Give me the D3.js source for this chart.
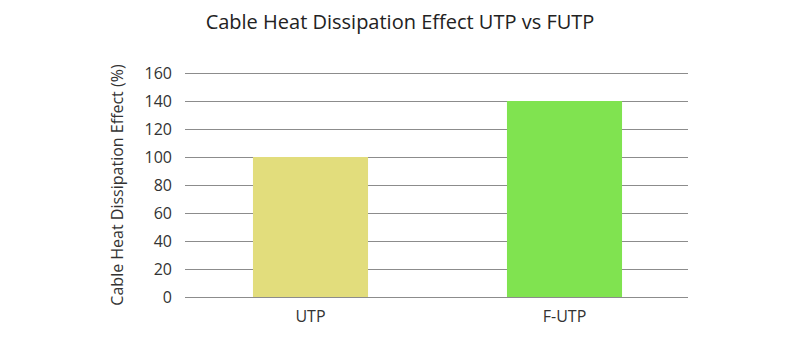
<!DOCTYPE html>
<html><head><meta charset="utf-8">
<script src="https://cdn.jsdelivr.net/npm/d3@7"></script>
<style>body{margin:0;background:#fff;}svg{display:block;font-family:"Open Sans",sans-serif;}</style>
</head><body><svg id="c" width="800" height="348"></svg>
<script>
const categories = ["UTP", "F-UTP"];
const values = [100, 140];
const colors = ["#e2dd7c", "#80e350"];
const yTicks = [0, 20, 40, 60, 80, 100, 120, 140, 160];

(function () {
const svg = d3.select("#c");
const mLeft = 185, mRight = 688, mTop = 73, mBottom = 297;
const x = d3.scaleBand().domain(categories).range([183.5, 691.5]).paddingInner(0).paddingOuter(0);
const y = d3.scaleLinear().domain([0, 160]).range([mBottom, mTop]);
const barW = x.bandwidth() * 0.453;

svg.append("text").attr("x", 400).attr("y", 29).attr("text-anchor", "middle")
  .attr("font-size", 20).attr("fill", "#222").text("Cable Heat Dissipation Effect UTP vs FUTP");

const yAxis = d3.axisLeft(y).tickValues(yTicks).tickSize(-(mRight - mLeft)).tickPadding(13);
const ga = svg.append("g").attr("transform", `translate(${mLeft},0)`).call(yAxis);
ga.select(".domain").remove();
ga.selectAll(".tick line").attr("stroke", "#8c8c8c").attr("stroke-width", 1);
ga.selectAll(".tick text").attr("font-size", 16).attr("fill", "#333").attr("font-family", "Open Sans");

svg.append("g").selectAll("rect").data(categories).join("rect")
  .attr("x", d => x(d) + x.bandwidth() / 2 - barW / 2)
  .attr("y", (d, i) => y(values[i]))
  .attr("width", barW)
  .attr("height", (d, i) => y(0) - y(values[i]))
  .attr("fill", (d, i) => colors[i]);

svg.append("line").attr("x1", mLeft).attr("x2", mRight).attr("y1", y(0) + 0.5).attr("y2", y(0) + 0.5)
  .attr("stroke", "#8c8c8c");

const xAxis = d3.axisBottom(x).tickSize(0).tickPadding(14);
const gx = svg.append("g").attr("transform", `translate(0,${mBottom})`).call(xAxis);
gx.select(".domain").remove();
gx.selectAll(".tick text").attr("font-size", 16).attr("fill", "#333").attr("font-family", "Open Sans");

svg.append("text").attr("transform", `translate(123,${(mTop + mBottom) / 2}) rotate(-90)`)
  .attr("text-anchor", "middle").attr("font-size", 16).attr("fill", "#333")
  .text("Cable Heat Dissipation Effect (%)");
})();
</script></body></html>
